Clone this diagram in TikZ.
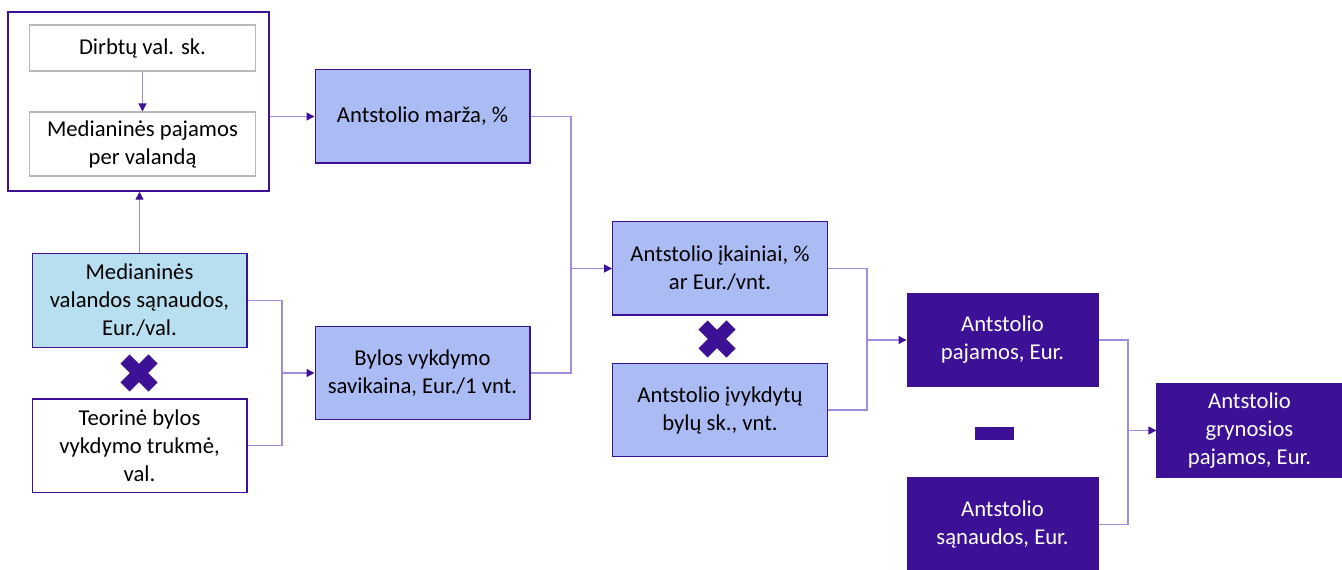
\documentclass[tikz,border=0pt]{standalone}
\usepackage{fontspec}
\setmainfont{Carlito}
\usetikzlibrary{arrows.meta,shapes.misc}

\definecolor{dpurple}{RGB}{61,17,150}
\definecolor{lavender}{RGB}{171,188,244}
\definecolor{skyfill}{RGB}{184,223,240}
\definecolor{linkcol}{RGB}{160,140,222}
\definecolor{greyline}{RGB}{185,185,185}

\tikzset{every picture/.style={line width=0.75pt}}

\begin{document}
\begin{tikzpicture}[x=0.75pt,y=0.75pt,yscale=-1,xscale=1,
  txt/.style={align=center, inner sep=0pt, font=\fontsize{17}{21}\selectfont},
  box/.style={txt, draw=dpurple, line width=1pt, minimum width=161pt, minimum height=70pt},
  lavbox/.style={box, fill=lavender},
  skybox/.style={box, fill=skyfill},
  darkbox/.style={box, fill=dpurple, text=white, minimum width=143pt},
  greybox/.style={txt, draw=greyline, line width=0.8pt, minimum width=170pt},
  link/.style={draw=linkcol, line width=1pt},
  conn/.style={link, -{Triangle[length=6pt,width=6pt,color=dpurple]}},
  xmark/.style={cross out, draw=dpurple, line width=9.75pt, minimum size=21pt, inner sep=0pt, outer sep=0pt},
  minusbar/.style={fill=dpurple, minimum width=29pt, minimum height=9.75pt, inner sep=0pt}]
\useasboundingbox (0,0) rectangle (1342,570);

%Shape: Rectangle (group frame)
\node [draw=dpurple, line width=1.1pt, minimum width=195.75pt, minimum height=134.25pt] (outer) at (138.5,101.5) {};
% Text Node
\node [greybox, minimum height=34.5pt] (dirbtu) at (142.5,48) {Dirbtų val. sk.};
% Text Node
\node [greybox, minimum height=48pt] (medpaj) at (142.5,144) {Medianinės pajamos\\per valandą};

% Text Node
\node [lavbox] (marza) at (422.5,116.5) {Antstolio marža, \%};
% Text Node
\node [skybox] (medval) at (139.5,300.5) {Medianinės\\valandos sąnaudos,\\Eur./val.};
% Text Node
\node [box, fill=white] (teor) at (139.5,445.5) {Teorinė bylos\\vykdymo trukmė,\\val.};
% Text Node
\node [lavbox] (bylos) at (422.5,373) {Bylos vykdymo\\savikaina, Eur./1 vnt.};
% Text Node
\node [lavbox] (ikainiai) at (720,268.5) {Antstolio įkainiai, \%\\ar Eur./vnt.};
% Text Node
\node [lavbox] (ivykd) at (720,410) {Antstolio įvykdytų\\bylų sk., vnt.};
% Text Node
\node [darkbox] (pajamos) at (1002.5,340) {Antstolio\\pajamos, Eur.};
% Text Node
\node [darkbox] (sanaudos) at (1002.5,524.5) {Antstolio\\sąnaudos, Eur.};
% Text Node
\node [darkbox, minimum width=138.75pt] (grynos) at (1249.5,430.5) {Antstolio\\grynosios\\pajamos, Eur.};

%Shape: operators
\node [xmark] (times1) at (139,373) {};
\node [xmark] (times2) at (717,339) {};
\node [minusbar] (minus) at (994.5,433.5) {};

%Straight Lines
\draw [conn] (dirbtu) -- (medpaj);
\draw [conn] (medval.north) -- (medval.north |- outer.south);
\draw [conn] (outer.east |- marza.west) -- (marza.west);

%Elbow joins
\coordinate (j1) at (282,373);
\coordinate (j2) at (571,268.5);
\coordinate (j3) at (867,340);
\coordinate (j4) at (1128,430.5);

\draw [link] (medval.east) -| (j1) |- (teor.east);
\draw [conn] (j1) -- (bylos.west);
\draw [link] (marza.east) -| (j2) |- (bylos.east);
\draw [conn] (j2) -- (ikainiai.west);
\draw [link] (ikainiai.east) -| (j3) |- (ivykd.east);
\draw [conn] (j3) -- (pajamos.west);
\draw [link] (pajamos.east) -| (j4) |- (sanaudos.east);
\draw [conn] (j4) -- (grynos.west);

\end{tikzpicture}
\end{document}
